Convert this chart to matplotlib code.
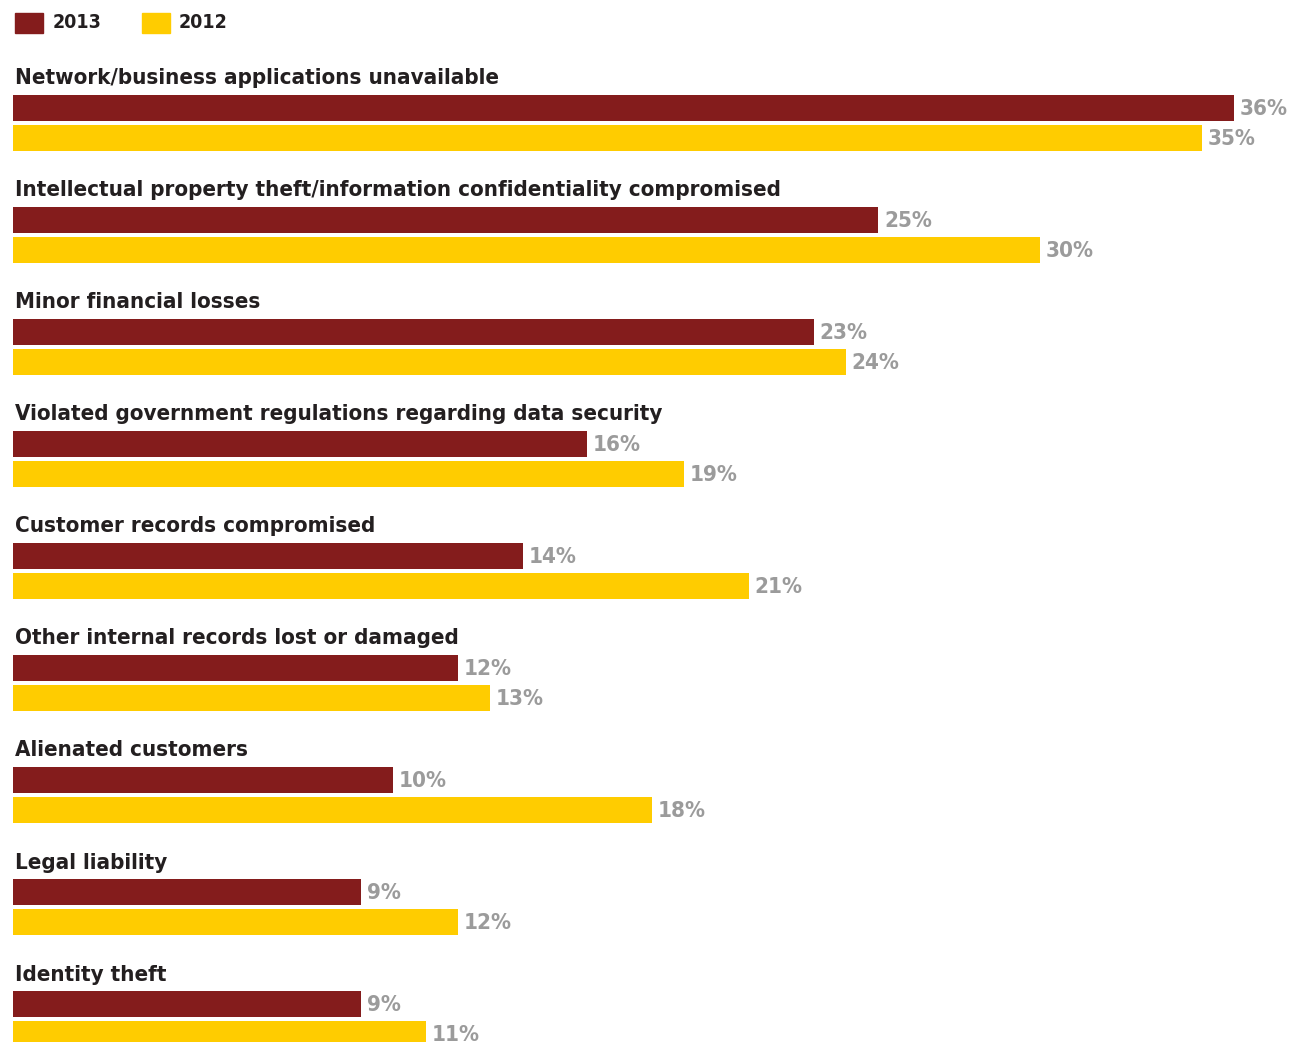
import matplotlib.pyplot as plt

plt.rcParams['font.family'] = ['DejaVu Sans']
plt.rcParams['font.stretch'] = 'condensed'

categories = [
    'Network/business applications unavailable',
    'Intellectual property theft/information confidentiality compromised',
    'Minor financial losses',
    'Violated government regulations regarding data security',
    'Customer records compromised',
    'Other internal records lost or damaged',
    'Alienated customers',
    'Legal liability',
    'Identity theft',
]
pct_2013 = [36, 25, 23, 16, 14, 12, 10, 9, 9]
pct_2012 = [35, 30, 24, 19, 21, 13, 18, 12, 11]

red = '#841C1C'
yellow = '#FFCC00'
gray = '#9B9B9B'
dark = '#231F20'

base = -1.77  # bars start a little left of zero in the original

fig = plt.figure(figsize=(12.93, 10.42), dpi=100)
ax = fig.add_axes([0, 0, 1, 1])

gap = 0.268
h = 0.24
for i, cat in enumerate(categories):
    ax.barh(i, pct_2013[i] - base, left=base, height=h, color=red)
    ax.barh(i + gap, pct_2012[i] - base, left=base, height=h, color=yellow)
    ax.text(pct_2013[i] + 0.17, i + 0.01, f'{pct_2013[i]}%', color=gray,
            fontsize=16, fontweight='bold', va='center', ha='left')
    ax.text(pct_2012[i] + 0.17, i + gap + 0.01, f'{pct_2012[i]}%', color=gray,
            fontsize=16, fontweight='bold', va='center', ha='left')
    ax.text(base + 0.06, i - 0.21, cat, color=dark, fontsize=16,
            fontweight='bold', va='baseline', ha='left')

ax.set_xlim(-2.17, 37.82)
ax.set_ylim(8.339, -0.964)
ax.axis('off')

# legend
fig.patches.append(plt.Rectangle((15 / 1293, 1 - 33 / 1042), 28 / 1293, 20 / 1042,
                                 transform=fig.transFigure, color=red))
fig.patches.append(plt.Rectangle((142 / 1293, 1 - 33 / 1042), 28 / 1293, 20 / 1042,
                                 transform=fig.transFigure, color=yellow))
fig.text(53 / 1293, 1 - 23 / 1042, '2013', color=dark, fontsize=14,
         fontweight='semibold', va='center')
fig.text(179 / 1293, 1 - 23 / 1042, '2012', color=dark, fontsize=14,
         fontweight='semibold', va='center')

fig.savefig('out.png', dpi=100)
